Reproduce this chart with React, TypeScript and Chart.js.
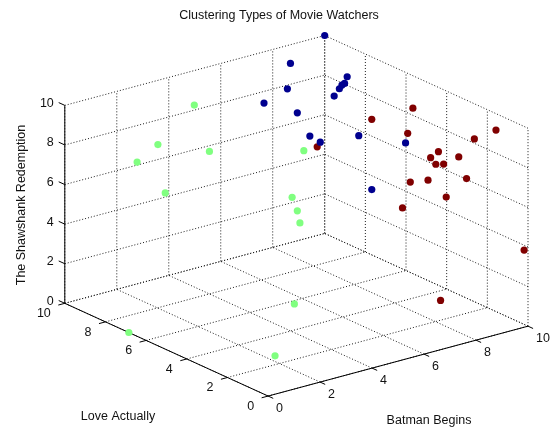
import React, { useEffect, useRef } from "react";
import { Chart, registerables } from "chart.js";

Chart.register(...registerables);

// ---- text ----
const TITLE = "Clustering Types of Movie Watchers";
const X_LABEL = "Batman Begins";
const Y_LABEL = "Love Actually";
const Z_LABEL = "The Shawshank Redemption";

// ---- axis ticks (same on all three axes) ----
const X_TICKS = [0, 2, 4, 6, 8, 10];
const Y_TICKS = [0, 2, 4, 6, 8, 10];
const Z_TICKS = [0, 2, 4, 6, 8, 10];

// ---- cluster 1 (navy) : Batman Begins / Love Actually / Shawshank ratings ----
const blueBatman = [10, 7.9, 7.0, 6.1, 9.3, 9.2, 9.1, 9.0, 8.8, 6.6, 6.3, 6.7, 7.4, 9.2, 7.9];
const blueLove = [10, 9, 8, 8, 8, 8, 8, 8, 8, 7, 6, 6, 5, 5, 5];
const blueShaw = [10, 9.8, 9.3, 8.9, 9.1, 8.8, 8.75, 8.6, 8.3, 8.7, 8.1, 7.65, 8.2, 7.2, 5.3];

// ---- cluster 2 (light green) ----
const greenBatman = [4.2, 2.8, 2.0, 4.0, 2.3, 6.85, 6.4, 6.6, 6.7, 5.0, 2.3, 0];
const greenLove = [9, 9, 9, 8, 8, 7, 7, 7, 7, 5.1, 2.6, 6.85];
const greenShaw = [9.0, 7.5, 6.9, 7.2, 5.7, 6.7, 4.5, 3.75, 3.1, 0.5, 0, 0];

// ---- cluster 3 (maroon) ----
const redBatman = [8.7, 7.9, 8.5, 9.55, 9.5, 8.9, 8.6, 8.9, 8.8, 9.1, 9.2, 8.5, 8.6, 9.2, 8.3, 9.85, 8.2, 5.8];
const redLove = [4, 5, 4, 1, 2, 3, 3, 2, 3, 3, 2, 3, 4, 3, 4, 0, 2, 5];
const redShaw = [9.6, 8.85, 8.4, 9.6, 8.7, 7.8, 7.6, 8.0, 7.2, 7.1, 6.8, 6.5, 5.9, 5.4, 4.7, 3.9, 1.0, 8.2];

// ---- view (orthographic projection of the 3-D box onto the canvas plane) ----
const W = 553;
const H = 429;
const ORIGIN = { x: 268, y: 399.5 };
const UX = { x: 26.37, y: -7.12 };
const UY = { x: -20.63, y: -9.45 };
const UZ = { x: 0, y: -20.17 };
const LIM = 10;

function proj(x: number, y: number, z: number) {
  return {
    x: ORIGIN.x + UX.x * x + UY.x * y + UZ.x * z,
    y: ORIGIN.y + UX.y * x + UY.y * y + UZ.y * z,
  };
}

function seg(a: number[], b: number[], dotted: boolean, order: number) {
  return {
    type: "scatter" as const,
    data: [proj(a[0], a[1], a[2]), proj(b[0], b[1], b[2])],
    showLine: true,
    borderColor: dotted ? "#1a1a1a" : "#000",
    borderWidth: 1,
    borderDash: dotted ? [1, 2] : [],
    pointRadius: 0,
    order,
  };
}

function cluster(xs: number[], ys: number[], zs: number[], color: string) {
  return {
    type: "scatter" as const,
    data: xs.map((x, i) => proj(x, ys[i], zs[i])),
    pointRadius: 3.6,
    pointBackgroundColor: color,
    pointBorderColor: color,
    pointBorderWidth: 0,
    showLine: false,
    order: 0,
  };
}

const textPlugin = {
  id: "text3d",
  afterDraw(chart: any) {
    const ctx = chart.ctx;
    const sx = chart.scales.x;
    const sy = chart.scales.y;
    const px = (p: { x: number; y: number }) => ({ x: sx.getPixelForValue(p.x), y: sy.getPixelForValue(p.y) });
    ctx.save();
    ctx.fillStyle = "#111";
    const font = '12.5px "Liberation Sans", Arial, sans-serif';
    ctx.font = font;
    ctx.textBaseline = "middle";
    // z tick labels
    ctx.textAlign = "right";
    Z_TICKS.forEach((t) => {
      const p = px(proj(0, LIM, t));
      ctx.fillText(String(t), p.x - 11, p.y - 2);
    });
    // y tick labels
    Y_TICKS.forEach((t) => {
      const p = px(proj(0, t, 0));
      ctx.fillText(String(t), p.x - 14, p.y + 10.5);
    });
    // x tick labels
    ctx.textAlign = "left";
    X_TICKS.forEach((t) => {
      const p = px(proj(t, 0, 0));
      ctx.fillText(String(t), p.x + 8, p.y + 12);
    });
    // title and axis labels
    ctx.textAlign = "center";
    ctx.fillText(TITLE, 279, 16);
    ctx.fillText(Y_LABEL, 118, 417);
    ctx.fillText(X_LABEL, 429, 421);
    ctx.translate(22, 205);
    ctx.rotate(-Math.PI / 2);
    ctx.fillText(Z_LABEL, 0, 0);
    ctx.restore();
  },
};

export default function App() {
  const ref = useRef<HTMLCanvasElement | null>(null);
  useEffect(() => {
    if (!ref.current) return;
    const datasets: any[] = [];
    // dotted grid: floor (z=0), back wall (y=10), side wall (x=10)
    X_TICKS.forEach((t) => {
      datasets.push(seg([t, 0, 0], [t, LIM, 0], true, 3));
      datasets.push(seg([t, LIM, 0], [t, LIM, LIM], true, 3));
    });
    Y_TICKS.forEach((t) => {
      datasets.push(seg([0, t, 0], [LIM, t, 0], true, 3));
      datasets.push(seg([LIM, t, 0], [LIM, t, LIM], true, 3));
    });
    Z_TICKS.forEach((t) => {
      datasets.push(seg([0, LIM, t], [LIM, LIM, t], true, 3));
      datasets.push(seg([LIM, 0, t], [LIM, LIM, t], true, 3));
    });
    // solid axes
    datasets.push(seg([0, 0, 0], [LIM, 0, 0], false, 2));
    datasets.push(seg([0, 0, 0], [0, LIM, 0], false, 2));
    datasets.push(seg([0, LIM, 0], [0, LIM, LIM], false, 2));
    // tick marks
    X_TICKS.forEach((t) => datasets.push(seg([t, 0, 0], [t, -0.25, 0], false, 2)));
    Y_TICKS.forEach((t) => datasets.push(seg([0, t, 0], [-0.25, t, 0], false, 2)));
    Z_TICKS.forEach((t) => datasets.push(seg([0, LIM, t], [0, LIM + 0.3, t], false, 2)));
    // clusters
    datasets.push(cluster(blueBatman, blueLove, blueShaw, "rgb(0,0,143)"));
    datasets.push(cluster(greenBatman, greenLove, greenShaw, "rgb(128,255,128)"));
    datasets.push(cluster(redBatman, redLove, redShaw, "rgb(128,0,0)"));

    const chart = new Chart(ref.current, {
      type: "scatter",
      data: { datasets },
      options: {
        animation: false,
        responsive: false,
        maintainAspectRatio: false,
        devicePixelRatio: 1,
        events: [],
        layout: { padding: 0 },
        plugins: { legend: { display: false }, tooltip: { enabled: false }, title: { display: false } },
        scales: {
          x: { type: "linear", min: 0, max: W, display: false },
          y: { type: "linear", min: 0, max: H, reverse: true, display: false },
        },
      },
      plugins: [textPlugin],
    });
    return () => chart.destroy();
  }, []);
  return (
    <div style={{ position: "absolute", left: 0, top: 0, width: W, height: H, background: "#fff" }}>
      <canvas ref={ref} width={W} height={H} style={{ width: W, height: H, display: "block" }} />
    </div>
  );
}
